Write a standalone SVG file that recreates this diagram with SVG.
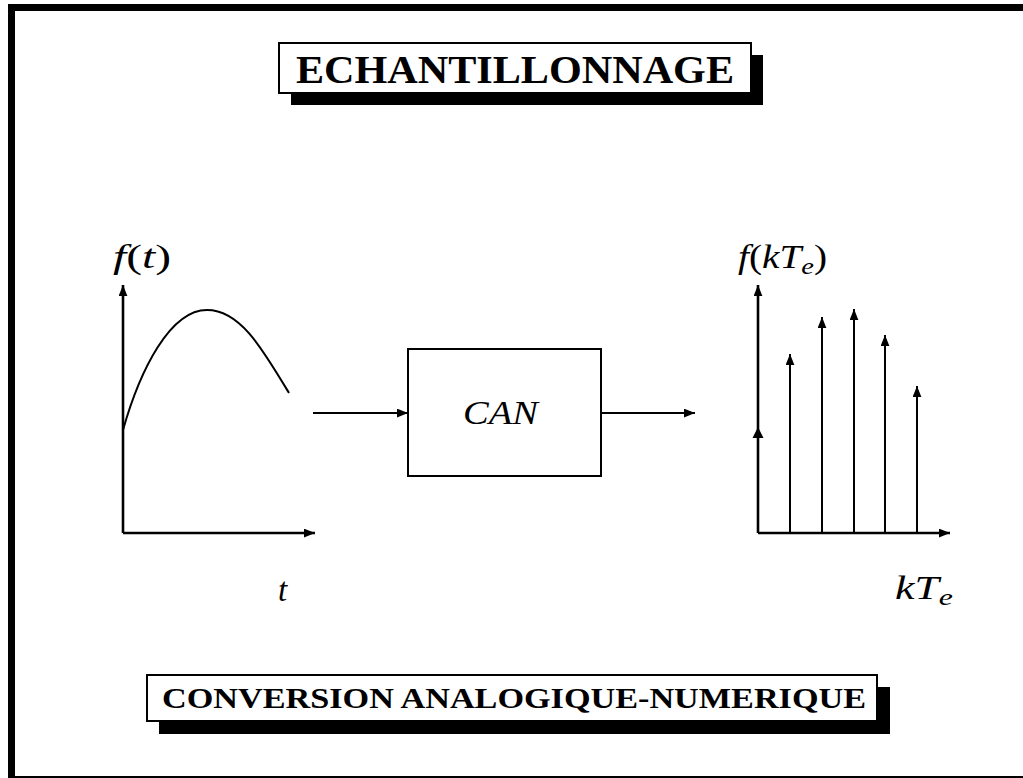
<svg xmlns="http://www.w3.org/2000/svg" width="1023" height="778" viewBox="0 0 1023 778">
<defs>
<style>
.ax{stroke:#000;stroke-width:2.6;fill:none}
.ln{stroke:#000;stroke-width:2;fill:none}
.box{stroke:#000;stroke-width:2;fill:#fff}
.title{font-family:"Liberation Serif",serif;font-weight:bold;fill:#000}
.m{font-family:"Liberation Serif",serif;font-style:italic;fill:#000;font-size:33px}
.up{font-style:normal}
</style>
<marker id="ah" viewBox="0 0 10 8" refX="10" refY="4" markerWidth="11" markerHeight="9" markerUnits="userSpaceOnUse" orient="auto">
<path d="M0,0 L10,4 L0,8 z" fill="#000"/>
</marker>
</defs>
<rect width="1023" height="778" fill="#fff"/>
<g id="frame">
<rect x="8" y="4" width="1015" height="7" fill="#000"/>
<rect x="8" y="4" width="7" height="774" fill="#000"/>
<rect x="8" y="776" width="1015" height="2" fill="#000"/>
</g>
<g id="title">
<rect x="291" y="55" width="472" height="50" fill="#000"/>
<rect x="279" y="43" width="472" height="50" class="box"/>
<text x="296" y="83" class="title" font-size="39" textLength="438" lengthAdjust="spacingAndGlyphs">ECHANTILLONNAGE</text>
</g>
<g id="left-plot">
<line x1="123" y1="533" x2="123" y2="285" class="ax" marker-end="url(#ah)"/>
<line x1="123" y1="533" x2="315" y2="533" class="ax" marker-end="url(#ah)"/>
<path d="M123,430 C140,370 170,310 207,310 C240,310 262,348 289,393" class="ln"/>
<text x="113" y="268" class="m" textLength="58" lengthAdjust="spacingAndGlyphs">f<tspan class="up">(</tspan>t<tspan class="up">)</tspan></text>
<text x="278" y="601" class="m">t</text>
</g>
<g id="can">
<rect x="408" y="349" width="193" height="127" class="box"/>
<text x="463" y="424" class="m" font-size="32" textLength="75" lengthAdjust="spacingAndGlyphs">CAN</text>
</g>
<g id="right-plot">
<line x1="758" y1="533" x2="758" y2="285" class="ax" marker-end="url(#ah)"/>
<line x1="758" y1="533" x2="950" y2="533" class="ax" marker-end="url(#ah)"/>
<path d="M752.5,438 L758,427 L763.5,438 z" fill="#000"/>
<line x1="790" y1="533" x2="790" y2="354" class="ln" marker-end="url(#ah)"/>
<line x1="822" y1="533" x2="822" y2="317" class="ln" marker-end="url(#ah)"/>
<line x1="854" y1="533" x2="854" y2="309" class="ln" marker-end="url(#ah)"/>
<line x1="885" y1="533" x2="885" y2="335" class="ln" marker-end="url(#ah)"/>
<line x1="917" y1="533" x2="917" y2="386" class="ln" marker-end="url(#ah)"/>
<text x="738" y="268" class="m" textLength="89" lengthAdjust="spacingAndGlyphs">f<tspan class="up">(</tspan>kT<tspan font-size="24" dy="6">e</tspan><tspan class="up" dy="-6">)</tspan></text>
<text x="895" y="599" class="m" textLength="58" lengthAdjust="spacingAndGlyphs">kT<tspan font-size="24" dy="6">e</tspan></text>
</g>
<g id="connectors">
<line x1="313" y1="413" x2="408" y2="413" class="ln" marker-end="url(#ah)"/>
<line x1="601" y1="413" x2="695" y2="413" class="ln" marker-end="url(#ah)"/>
</g>
<g id="subtitle">
<rect x="159" y="687" width="731" height="47" fill="#000"/>
<rect x="147" y="675" width="730" height="46" class="box"/>
<text x="162" y="708" class="title" font-size="29" textLength="704" lengthAdjust="spacingAndGlyphs">CONVERSION ANALOGIQUE-NUMERIQUE</text>
</g>
</svg>
